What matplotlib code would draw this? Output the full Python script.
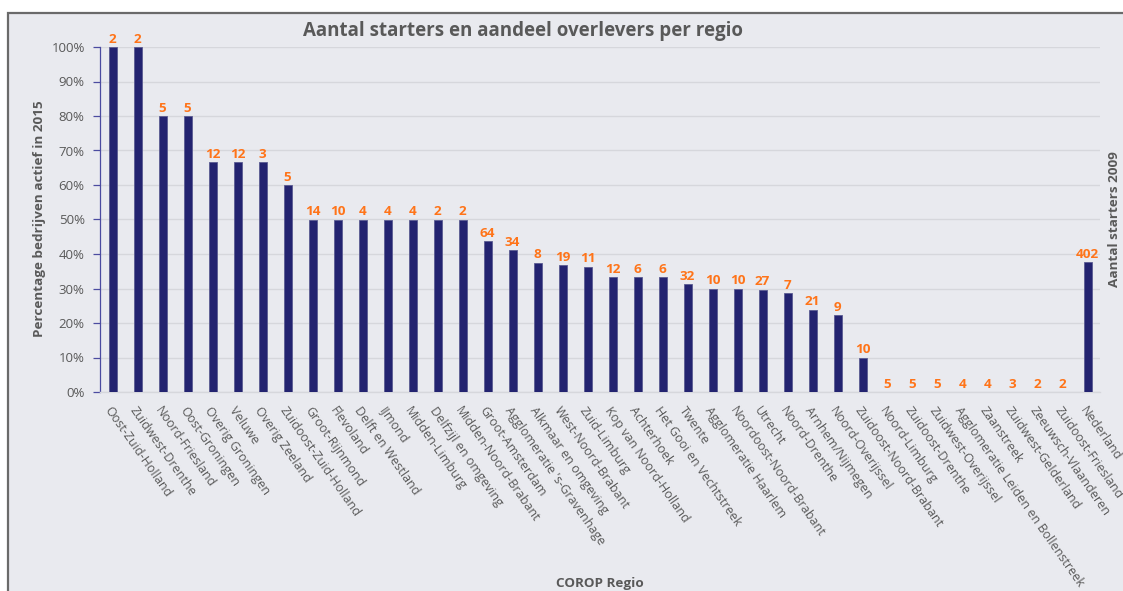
import numpy as np
import matplotlib
matplotlib.use("Agg")
import matplotlib.pyplot as plt
from matplotlib.patches import Rectangle
from matplotlib.ticker import MultipleLocator, FuncFormatter

plt.rcParams['font.family'] = ['Open Sans', 'DejaVu Sans']

regions = [
    "Oost-Zuid-Holland", "Zuidwest-Drenthe", "Noord-Friesland", "Oost-Groningen",
    "Overig Groningen", "Veluwe", "Overig Zeeland", "Zuidoost-Zuid-Holland",
    "Groot-Rijnmond", "Flevoland", "Delft en Westland", "IJmond", "Midden-Limburg",
    "Delfzijl en omgeving", "Midden-Noord-Brabant", "Groot-Amsterdam",
    "Agglomeratie 's-Gravenhage", "Alkmaar en omgeving", "West-Noord-Brabant",
    "Zuid-Limburg", "Kop van Noord-Holland", "Achterhoek", "Het Gooi en Vechtstreek",
    "Twente", "Agglomeratie Haarlem", "Noordoost-Noord-Brabant", "Utrecht",
    "Noord-Drenthe", "Arnhem/Nijmegen", "Noord-Overijssel", "Zuidoost-Noord-Brabant",
    "Noord-Limburg", "Zuidoost-Drenthe", "Zuidwest-Overijssel",
    "Agglomeratie Leiden en Bollenstreek", "Zaanstreek", "Zuidwest-Gelderland",
    "Zeeuwsch-Vlaanderen", "Zuidoost-Friesland", "Nederland",
]

starters_2009 = [2, 2, 5, 5, 12, 12, 3, 5, 14, 10, 4, 4, 4, 2, 2, 64, 34, 8, 19, 11,
                 12, 6, 6, 32, 10, 10, 27, 7, 21, 9, 10, 5, 5, 5, 4, 4, 3, 2, 2, 402]

active_2015 = [2, 2, 4, 4, 8, 8, 2, 3, 7, 5, 2, 2, 2, 1, 1, 28, 14, 3, 7, 4,
               4, 2, 2, 10, 3, 3, 8, 2, 5, 2, 1, 0, 0, 0, 0, 0, 0, 0, 0, 151]

share_active = [a / s for a, s in zip(active_2015, starters_2009)]

BG = "#E9EAEF"
NAVY = "#232370"
ORANGE = "#FF7419"
GREY_TXT = "#595959"
GRID = "#D6D7DC"

W, H = 1123, 591
fig = plt.figure(figsize=(W / 100, H / 100), dpi=100)
fig.patch.set_facecolor("white")

# chart area panel with its border
fig.patches.append(Rectangle((8 / W, -0.05), 1.2, (H - 13) / H + 0.05,
                             transform=fig.transFigure, facecolor=BG,
                             edgecolor="#6a6a6a", lw=1.6, zorder=-10))

ax = fig.add_axes([100 / W, 1 - 392 / H, 1000 / W, 345 / H])
ax.set_facecolor("none")

x = np.arange(len(regions))
ax.bar(x, share_active, width=0.32, color=NAVY, edgecolor="#5b5b92",
       linewidth=0.6, zorder=3)

ax.set_xlim(-0.5, len(regions) - 0.5)
ax.set_ylim(0, 1)

ax.yaxis.set_major_locator(MultipleLocator(0.1))
ax.yaxis.set_major_formatter(FuncFormatter(lambda v, _: f"{v * 100:.0f}%"))
ax.grid(axis="y", color=GRID, lw=1.0, zorder=0)
ax.set_axisbelow(True)

for side in ("top", "right"):
    ax.spines[side].set_visible(False)
ax.spines["left"].set_color("#4B4BA0")
ax.spines["left"].set_linewidth(0.9)
ax.spines["bottom"].set_color(GRID)
ax.spines["bottom"].set_linewidth(1.0)

ax.tick_params(axis="y", direction="out", length=5, width=0.9, color="#4B4BA0",
               labelsize=9.5, labelcolor=GREY_TXT, pad=6)
ax.tick_params(axis="x", length=0, pad=9)
ax.set_xticks(x)
ax.set_xticklabels(regions, rotation=-55, ha="left", va="top",
                   rotation_mode="anchor", fontsize=9, color=GREY_TXT)

for xi, s, n in zip(x, share_active, starters_2009):
    ax.annotate(str(n), (xi, s), xytext=(0, 1), textcoords="offset points",
                ha="center", va="bottom", color=ORANGE, fontweight="bold",
                fontsize=9.7, annotation_clip=False)

fig.text(523 / W, 1 - 31 / H, "Aantal starters en aandeel overlevers per regio",
         ha="center", va="center", fontsize=13.5, fontweight="bold", color=GREY_TXT)
fig.text(40 / W, 1 - 219 / H, "Percentage bedrijven actief in 2015",
         rotation=90, ha="center", va="center", fontsize=9.7, fontweight="bold",
         color=GREY_TXT)
fig.text(1115 / W, 1 - 219 / H, "Aantal starters 2009",
         rotation=90, ha="center", va="center", fontsize=9.7, fontweight="bold",
         color=GREY_TXT)
fig.text(600 / W, 1 - 584 / H, "COROP Regio", ha="center", va="center",
         fontsize=9.7, fontweight="bold", color=GREY_TXT)

fig.savefig("out.png", dpi=100, facecolor="white")
